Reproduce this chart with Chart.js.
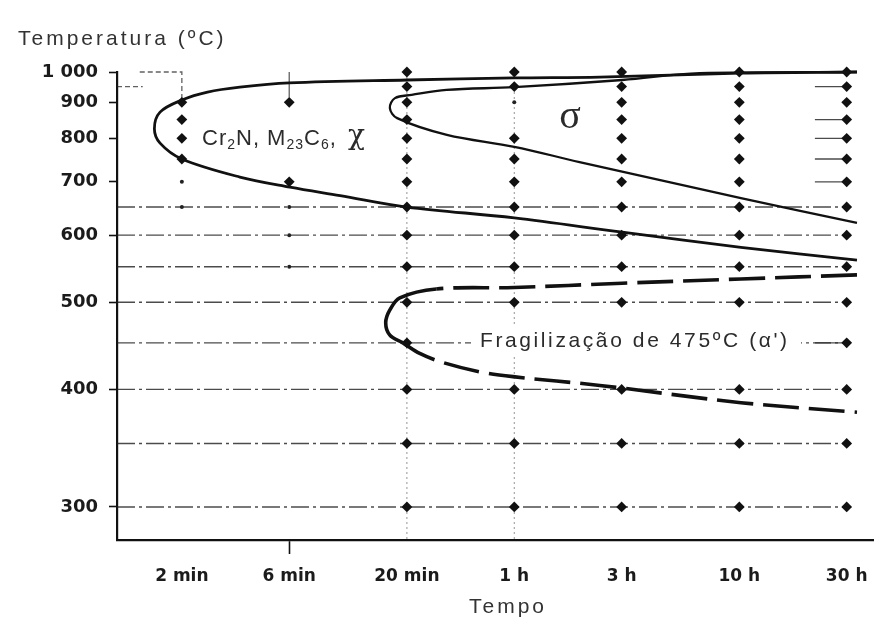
<!DOCTYPE html>
<html>
<head>
<meta charset="utf-8">
<title>Diagrama TTP</title>
<script src="https://cdn.jsdelivr.net/npm/chart.js@4.4.1/dist/chart.umd.min.js"></script>
<style>
  html, body { margin: 0; padding: 0; background: #fff; }
  #wrap { width: 892px; height: 631px; position: relative; }
</style>
</head>
<body>
<div id="wrap"><canvas id="ttp"></canvas></div>
<script>
// Time axis (minutes, log) and temperature axis (°C)
const timeTicks = [2, 6, 20, 60, 180, 600, 1800];
const timeLabels = ['2 min', '6 min', '20 min', '1 h', '3 h', '10 h', '30 h'];
const tempTicks = [300, 400, 500, 600, 700, 800, 900, 1000];
const tempLabels = ['300', '400', '500', '600', '700', '800', '900', '1 000'];

// Cr2N, M23C6, chi curve (upper branch -> nose -> lower branch)
const carbideTime = [2000, 610, 144, 60, 20, 6.0, 3.62, 2.6, 2.0, 1.6, 1.51, 1.6, 2.0, 3.62, 6.04, 10.1, 20, 60, 181, 610, 2000];
const carbideTemp = [1000, 996, 982, 979, 972, 962, 948, 932, 907, 871, 825, 788, 750, 710, 689, 672, 650, 630, 605, 580, 560];

// sigma curve
const sigmaTime = [2000, 400, 181, 60, 30, 21, 17.7, 16.8, 18.1, 30.1, 60, 117, 610, 2000];
const sigmaTemp = [1000, 996, 972, 948, 939, 923, 913, 883, 854, 809, 779, 743, 667, 621];

// 475 °C embrittlement (alpha') curve, dashed; the nose is one long stroke
const alphaTime = [2000, 610, 181, 60, 27, 18.6, 16.8, 16.1, 16.8, 19.2, 22.8, 28.9, 42.2, 59.2, 144, 610, 2000];
const alphaTemp = [538, 532, 526, 520, 518, 506, 490, 474, 459, 450, 438, 428, 418, 413, 404, 387, 378];
const alphaNose = [4, 9];

// Test points per time column (big and small markers)
const dotTemps = [
  [900, 850, 800, 750],
  [900, 700],
  [1000, 950, 900, 850, 800, 750, 700, 650, 600, 550, 500, 450, 400, 350, 300],
  [1000, 950, 800, 750, 700, 650, 600, 550, 500, 400, 350, 300],
  [1000, 950, 900, 850, 800, 750, 700, 650, 600, 550, 500, 400, 350, 300],
  [1000, 950, 900, 850, 800, 750, 700, 650, 600, 550, 500, 400, 350, 300],
  [1000, 950, 900, 850, 800, 750, 700, 650, 600, 550, 500, 450, 400, 350, 300]
];
const smallDotTemps = [[700, 650], [650, 600, 550], [], [900], [], [], []];

// Guide lines
const gridTemps = [650, 600, 550, 500, 450, 400, 350, 300];
const leaderTemps = [950, 850, 800, 750, 700, 450];
const verticalTimes = [20, 60];

// 1/T (kelvin) temperature scale
class ReciprocalScale extends Chart.LinearScale {
  static id = 'reciprocal';
  static defaults = Chart.LinearScale.defaults;
  inv(v) { return 1 / (v + 273.15); }
  getPixelForValue(value) {
    if (value === null || value === undefined) return NaN;
    const lo = this.inv(this.min), hi = this.inv(this.max);
    return this.getPixelForDecimal((this.inv(value) - lo) / (hi - lo));
  }
  getValueForPixel(pixel) {
    const lo = this.inv(this.min), hi = this.inv(this.max);
    return 1 / (lo + this.getDecimalForPixel(pixel) * (hi - lo)) - 273.15;
  }
}
Chart.register(ReciprocalScale);

const pts = (ts, vs) => ts.map((t, i) => ({ x: t, y: vs[i] }));
const columnPts = (cols) => cols.flatMap((temps, i) => temps.map(v => ({ x: timeTicks[i], y: v })));

const guidesPlugin = {
  id: 'guides',
  beforeDatasetsDraw(chart) {
    const { ctx, chartArea, scales: { x, y } } = chart;
    const xEnd = x.getPixelForValue(1800) + 2;
    ctx.save();
    // dash-dot isotherms
    ctx.strokeStyle = 'rgba(30,30,30,0.8)';
    ctx.lineWidth = 1.4;
    ctx.setLineDash([18, 4, 3, 4]);
    gridTemps.forEach(t => {
      const py = y.getPixelForValue(t);
      ctx.beginPath(); ctx.moveTo(chartArea.left, py); ctx.lineTo(xEnd, py); ctx.stroke();
    });
    ctx.setLineDash([]);
    ctx.lineWidth = 1.3;
    leaderTemps.forEach(t => {
      const py = y.getPixelForValue(t);
      ctx.beginPath(); ctx.moveTo(x.getPixelForValue(1300), py); ctx.lineTo(xEnd, py); ctx.stroke();
    });
    // dotted verticals
    ctx.strokeStyle = 'rgba(60,60,60,0.55)';
    ctx.lineWidth = 1;
    ctx.setLineDash([2, 3]);
    verticalTimes.forEach(t => {
      const px = x.getPixelForValue(t);
      ctx.beginPath(); ctx.moveTo(px, chartArea.top); ctx.lineTo(px, chartArea.bottom); ctx.stroke();
    });
    // small marks near the top-left corner
    ctx.strokeStyle = 'rgba(30,30,30,0.7)';
    ctx.lineWidth = 1.3;
    ctx.setLineDash([5, 3]);
    ctx.beginPath();
    ctx.moveTo(x.getPixelForValue(1.3), y.getPixelForValue(1000));
    ctx.lineTo(x.getPixelForValue(2), y.getPixelForValue(1000));
    ctx.lineTo(x.getPixelForValue(2), y.getPixelForValue(910));
    ctx.moveTo(chartArea.left, y.getPixelForValue(950));
    ctx.lineTo(x.getPixelForValue(1.34), y.getPixelForValue(950));
    ctx.stroke();
    ctx.setLineDash([]);
    ctx.beginPath();
    ctx.moveTo(x.getPixelForValue(6), y.getPixelForValue(1000));
    ctx.lineTo(x.getPixelForValue(6), y.getPixelForValue(915));
    ctx.stroke();
    ctx.restore();
  }
};

function spaced(ctx, text, px, py, font, spacing, align) {
  ctx.font = font;
  ctx.letterSpacing = spacing + 'px';
  ctx.textAlign = align || 'left';
  ctx.fillText(text, px, py);
  ctx.letterSpacing = '0px';
}

const textPlugin = {
  id: 'diagramText',
  afterDatasetsDraw(chart) {
    const { ctx } = chart;
    ctx.save();
    ctx.textBaseline = 'alphabetic';
    ctx.fillStyle = '#2b2b2b';
    const sans = '"Liberation Sans", Arial, sans-serif';

    // Cr2N, M23C6, chi label with subscripts
    let cx = 202;
    const parts = [['Cr', 0], ['2', 1], ['N, M', 0], ['23', 1], ['C', 0], ['6', 1], [', ', 0]];
    parts.forEach(([s, sub]) => {
      ctx.font = (sub ? '14px ' : '22px ') + sans;
      ctx.letterSpacing = '1px';
      ctx.fillText(s, cx, sub ? 149 : 145);
      cx += ctx.measureText(s).width;
    });
    ctx.letterSpacing = '0px';
    ctx.font = '28px "DejaVu Serif", serif';
    ctx.fillText('\u03C7', cx + 4, 144);

    // sigma
    ctx.font = '40px "Liberation Serif", serif';
    ctx.textAlign = 'center';
    ctx.fillText('\u03C3', 570, 128);

    // alpha' label on a white patch so the 450 °C line stops at it
    ctx.fillStyle = '#fff';
    ctx.fillRect(471, 326, 330, 28);
    ctx.fillStyle = '#2b2b2b';
    spaced(ctx, "Fragiliza\u00E7\u00E3o de 475\u00BAC (\u03B1')", 480, 347, '21px ' + sans, 2.6);
    ctx.restore();
  },
  afterDraw(chart) {
    const { ctx } = chart;
    ctx.save();
    ctx.fillStyle = '#333';
    ctx.textBaseline = 'alphabetic';
    const sans = '"Liberation Sans", Arial, sans-serif';
    spaced(ctx, 'Temperatura (\u00BAC)', 18, 45, '21px ' + sans, 3);
    spaced(ctx, 'Tempo', 508, 613, '21px ' + sans, 3, 'center');
    ctx.restore();
  }
};

const curveBase = { showLine: true, pointRadius: 0, fill: false, tension: 0.35, clip: false, borderColor: '#111' };
const tickFont = { family: 'DejaVu Sans', weight: 'bold' };

new Chart(document.getElementById('ttp'), {
  type: 'scatter',
  data: {
    datasets: [
      { ...curveBase, data: pts(carbideTime, carbideTemp), borderWidth: 2.8 },
      { ...curveBase, data: pts(sigmaTime, sigmaTemp), borderWidth: 2.3 },
      {
        ...curveBase,
        data: pts(alphaTime, alphaTemp),
        borderWidth: 3.6,
        borderDash: [36, 10],
        segment: {
          borderDash: c => (c.p0DataIndex >= alphaNose[0] && c.p1DataIndex <= alphaNose[1] ? [] : [36, 10])
        }
      },
      { data: columnPts(dotTemps), pointStyle: 'rectRot', pointRadius: 5.4, backgroundColor: '#111', borderWidth: 0, clip: false },
      { data: columnPts(smallDotTemps), pointStyle: 'circle', pointRadius: 2, backgroundColor: '#222', borderWidth: 0, clip: false }
    ]
  },
  options: {
    responsive: true,
    maintainAspectRatio: false,
    animation: false,
    events: [],
    layout: { padding: { top: 72, right: 19, left: 0, bottom: 0 } },
    plugins: { legend: { display: false }, tooltip: { enabled: false } },
    scales: {
      x: {
        type: 'logarithmic',
        min: 1.03,
        max: 2356,
        afterBuildTicks: s => { s.ticks = timeTicks.map(v => ({ value: v })); },
        afterFit: s => { s.height = 91; },
        ticks: {
          callback: (v, i) => timeLabels[i],
          font: { ...tickFont, size: 17 },
          color: '#1b1b1b',
          maxRotation: 0,
          autoSkip: false,
          padding: 12
        },
        grid: {
          drawOnChartArea: false,
          tickLength: 14,
          tickWidth: 1.6,
          tickColor: c => (c.tick && c.tick.value === 6 ? '#111' : 'rgba(0,0,0,0)')
        },
        border: { color: '#111', width: 2.2 }
      },
      y: {
        type: 'reciprocal',
        min: 277,
        max: 1000,
        afterBuildTicks: s => { s.ticks = tempTicks.map(v => ({ value: v })); },
        afterFit: s => { s.width = 117; },
        ticks: {
          callback: (v, i) => tempLabels[i],
          font: { ...tickFont, size: 18 },
          color: '#1b1b1b',
          autoSkip: false,
          padding: 11
        },
        grid: { drawOnChartArea: false, tickLength: 8, tickWidth: 1.6, tickColor: '#111' },
        border: { color: '#111', width: 2.2 }
      }
    }
  },
  plugins: [guidesPlugin, textPlugin]
});
</script>
</body>
</html>
